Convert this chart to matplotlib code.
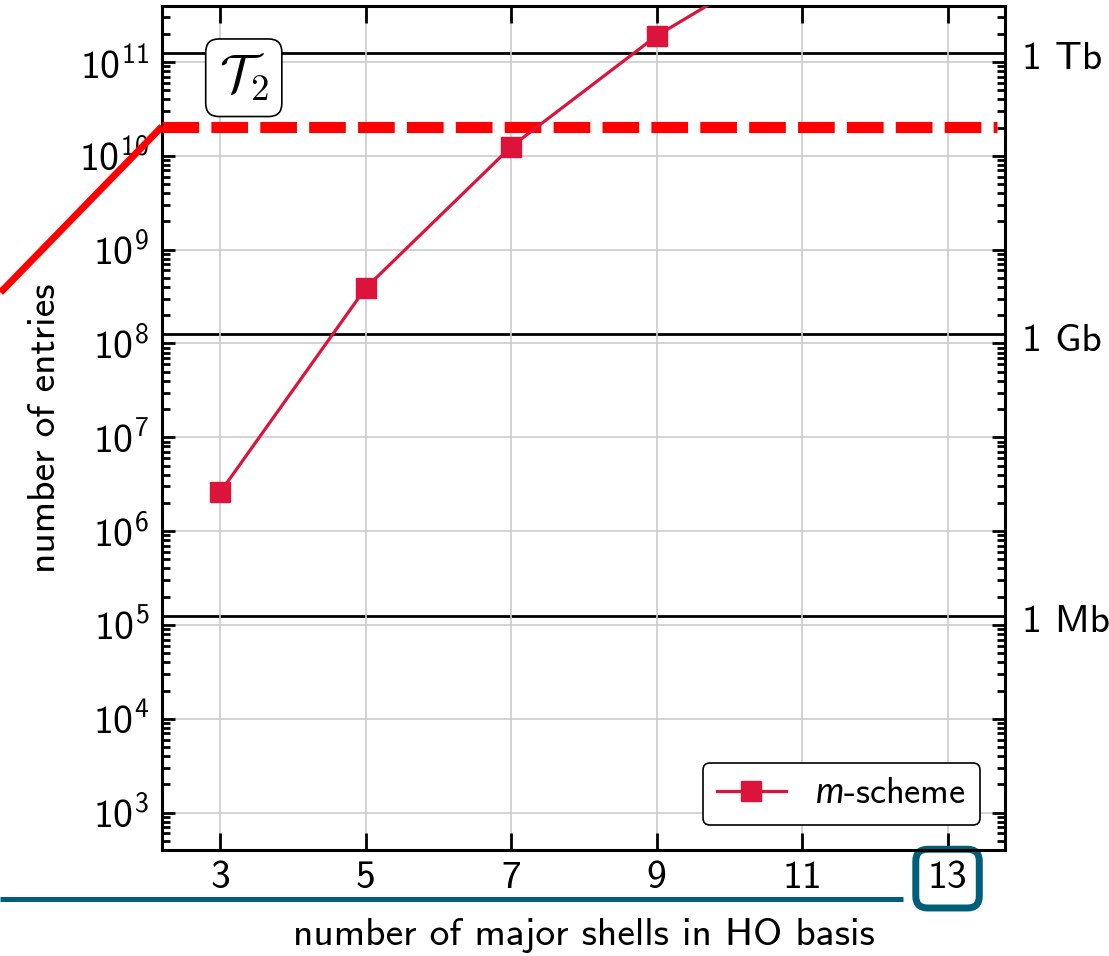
import numpy as np
import matplotlib.pyplot as plt
from matplotlib import transforms

plt.rcParams['font.family'] = ['cmss10', 'DejaVu Sans']
plt.rcParams['mathtext.fontset'] = 'custom'
plt.rcParams['mathtext.rm'] = 'cmss10'
plt.rcParams['mathtext.it'] = 'Lato:italic'
plt.rcParams['mathtext.default'] = 'rm'
plt.rcParams['axes.unicode_minus'] = False

# m-scheme T2 amplitudes vs number of major shells
shells = [3, 5, 7, 9, 11]
entries = [2.6e6, 3.9e8, 1.25e10, 1.9e11, 1.6e12]

# storage levels (double precision entries)
memory_labels = ['1 Mb', '1 Gb', '1 Tb']
memory_levels = [1.25e5, 1.25e8, 1.25e11]

# available memory limit (red line coming from the left panel)
limit_x = [-0.02, 2.2, 13.68]
limit_y = [3.5e8, 2.05e10, 2.05e10]

x_ticks = [3, 5, 7, 9, 11, 13]
y_exponents = [3, 4, 5, 6, 7, 8, 9, 10, 11]

crimson = '#dc143c'
teal = '#005f78'
fs = 28.5

fig = plt.figure(figsize=(11.09, 9.56), dpi=100)
ax = fig.add_axes([162 / 1109, 1 - 850 / 956, (1005 - 162) / 1109, (850 - 6) / 956])
ax.set_yscale('log')
ax.set_xlim(2.2, 13.79)
ax.set_ylim(4.0e2, 3.95e11)

ax.grid(True, which='major', color='#cccccc', lw=1.2, zorder=0)

for lev in memory_levels:
    ax.axhline(lev, color='black', lw=2.0, zorder=1)
lbl_tr = transforms.blended_transform_factory(ax.transAxes, ax.transData)
for lab, lev in zip(memory_labels, memory_levels):
    ax.text(1.02, lev * 0.85, lab, transform=lbl_tr, ha='left', va='center',
            fontsize=fs)

# memory limit: solid part outside the axes, dashed inside
ax.plot(limit_x[:2], limit_y[:2], color='red', lw=5, clip_on=False,
        solid_capstyle='butt', zorder=3)
ax.plot(limit_x[1:], limit_y[1:], color='red', lw=8, dashes=(3.3, 1.1),
        dash_capstyle='butt', clip_on=False, zorder=3)

ax.plot(shells, entries, color=crimson, lw=2.3, marker='s', markersize=14,
        label=r'$\mathit{m}$-scheme', zorder=4)

ax.set_xticks(x_ticks)
ax.set_xticklabels([str(v) for v in x_ticks])
ax.set_yticks([10.0 ** e for e in y_exponents])
ax.set_yticklabels([r'$10^{%d}$' % e for e in y_exponents])
ax.yaxis.set_minor_locator(plt.matplotlib.ticker.LogLocator(base=10, subs=np.arange(2, 10), numticks=20))
ax.yaxis.set_minor_formatter(plt.NullFormatter())

ax.tick_params(which='both', direction='in', top=True, right=True, width=2,
               labelsize=fs)
ax.tick_params(axis='x', which='major', length=12, pad=8)
ax.tick_params(axis='y', which='major', length=9.5, pad=9)
ax.tick_params(axis='y', which='minor', length=6, width=2)
for sp in ax.spines.values():
    sp.set_linewidth(2.2)

ax.set_xlabel('number of major shells in HO basis', fontsize=fs, labelpad=16)
ax.set_ylabel('number of entries', fontsize=fs, labelpad=12)

# highlight the 13 tick label
for t in ax.get_xticklabels():
    if t.get_text() == '13':
        t.set_bbox(dict(boxstyle='round,pad=0.3', fc='none', ec=teal, lw=5))

fig.add_artist(plt.Line2D([0, 903 / 1109], [1 - 899 / 956] * 2, color=teal,
                          lw=3.6, solid_capstyle='butt'))

ax.text(0.097, 0.915, r'$\mathcal{T}_2$', transform=ax.transAxes, fontsize=38,
        ha='center', va='center', math_fontfamily='cm', zorder=5,
        bbox=dict(boxstyle='round,pad=0.25', fc='white', ec='black', lw=1.2))

leg = ax.legend(loc='lower right', fontsize=26, fancybox=True, framealpha=1,
                edgecolor='black', handlelength=1.9, borderaxespad=0.7)
leg.get_frame().set_linewidth(1.2)

fig.savefig('out.png', dpi=100, facecolor='white')
